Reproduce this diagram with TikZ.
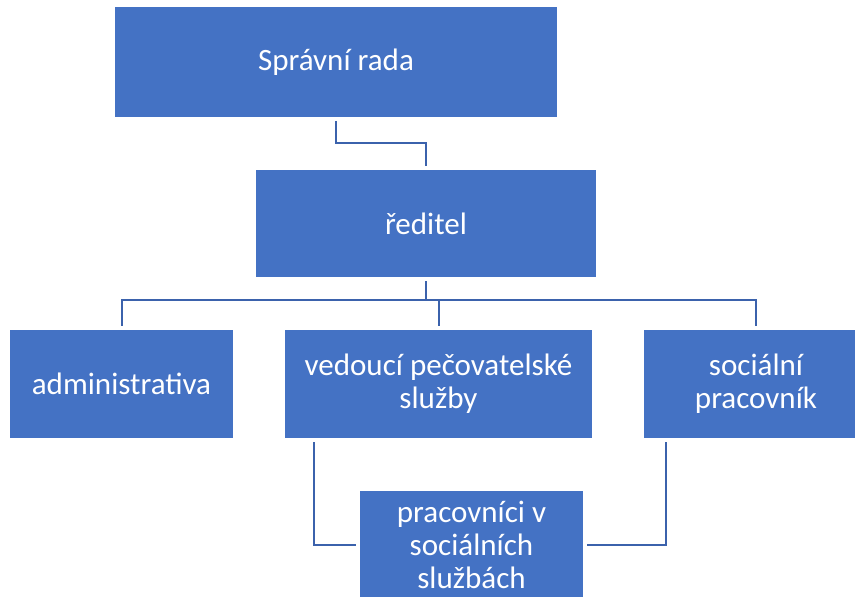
\documentclass[tikz,border=0pt]{standalone}
\usepackage{fontspec}
\setmainfont{Carlito}
\usepackage{xcolor}
\usepackage{tikz}
\usetikzlibrary{calc}
\definecolor{boxblue}{RGB}{68,114,196}
\definecolor{lineblue}{RGB}{59,98,172}
\tikzset{
  unit/.style={rectangle,fill=boxblue,text=white,align=center,inner sep=0pt,
    outer sep=0.12cm,minimum height=3.24cm,font=\fontsize{26.5}{28}\selectfont},
  link/.style={draw=lineblue,line width=0.06cm}
}

\begin{document}
\begin{tikzpicture}[x=0.03cm,y=-0.03cm]
    \useasboundingbox (0,0) rectangle (855,597);
    \begin{scope}
      \clip (0,0) rectangle (855,597);
      \node[unit,minimum width=13.26cm,minimum height=3.3cm] at (336, 62)   (rada) {Správní rada};
      \node[unit,minimum width=10.2cm,minimum height=3.21cm] at (426, 223.5)   (reditel) {ředitel};
      \node[unit,minimum width=6.69cm] at (121.5, 384)   (admin) {administrativa};
      \node[unit,minimum width=9.21cm] at (438.5, 384)   (vedouci) {vedoucí pečovatelské\\služby};
      \node[unit,minimum width=6.72cm] at (756, 384)   (socialni) {sociální\\pracovník};
      \node[unit,minimum width=6.69cm,minimum height=3.21cm] at (471.5, 545)   (pracovnici) {pracovníci v\\sociálních\\službách};
    \end{scope}
    % spojnice
    \draw[link] (rada.south) -- ++(0,22.5) -| (reditel.north);
    \draw[link] (reditel.south) -- ++(0,19) -| (admin.north);
    \draw[link] (reditel.south) -- ++(0,19) -| (vedouci.north);
    \draw[link] (reditel.south) -- ++(0,19) -| (socialni.north);
    \draw[link] ([xshift=1cm]vedouci.south west) |- (pracovnici.west);
    \draw[link] ([xshift=0.78cm]socialni.south west) |- (pracovnici.east);
\end{tikzpicture}
\end{document}
